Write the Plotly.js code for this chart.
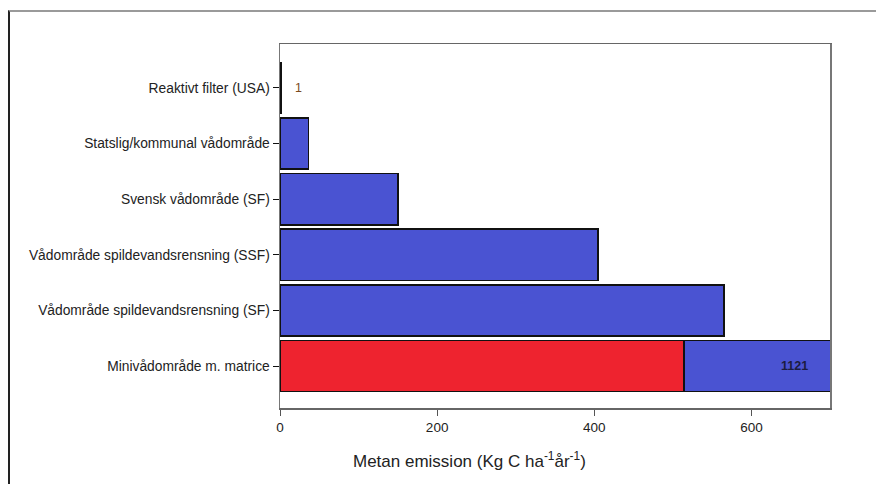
<!DOCTYPE html>
<html>
<head>
<meta charset="utf-8">
<script src="https://cdn.plot.ly/plotly-3.0.1.min.js"></script>
<style>
  html, body { margin: 0; padding: 0; background: #fff; }
  #wrap { position: relative; width: 876px; height: 484px; }
  #chart { position: absolute; left: 0; top: 0; width: 876px; height: 484px; }
  #frame { position: absolute; left: 8px; top: 10px; right: -2px; bottom: -2px;
           border-top: 2px solid #9a9a9a; border-left: 2px solid #222; pointer-events: none; }
</style>
</head>
<body>
<div id="wrap">
  <div id="chart"></div>
  <div id="frame"></div>
</div>
<script>
// Categories, top to bottom
const categories = [
  "Reaktivt filter (USA)",
  "Statslig/kommunal vådområde",
  "Svensk vådområde (SF)",
  "Vådområde spildevandsrensning (SSF)",
  "Vådområde spildevandsrensning (SF)",
  "Minivådområde m. matrice"
];
// Red segment (only the mini wetland has one)
const redValues  = [0, 0, 0, 0, 0, 514];
// Blue segment stacked after red
const blueValues = [1, 36, 150, 405, 565, 607];
// Labels shown on the chart
const lowLabel = "1";
const totalLabel = "1121";
const xTicks = [0, 200, 400, 600];
const xTitle = "Metan emission (Kg C ha<sup>-1</sup>år<sup>-1</sup>)";

const lineStyle = { color: "#111", width: 1.5 };

const traces = [
  {
    type: "bar", orientation: "h",
    y: categories, x: redValues,
    marker: { color: "#ee232f", line: lineStyle },
    hoverinfo: "x+y", showlegend: false
  },
  {
    type: "bar", orientation: "h",
    y: categories, x: blueValues,
    marker: { color: "#4a53d2", line: lineStyle },
    hoverinfo: "x+y", showlegend: false
  }
];

const layout = {
  width: 876, height: 484,
  margin: { l: 280, r: 46, t: 44, b: 76 },
  paper_bgcolor: "#fff", plot_bgcolor: "#fff",
  barmode: "stack", bargap: 0.08,
  font: { family: "Liberation Sans, Arial, sans-serif", size: 12, color: "#222" },
  xaxis: {
    range: [0, 700], tickvals: xTicks, ticktext: xTicks.map(String),
    ticks: "outside", ticklen: 6, tickcolor: "#555", tickwidth: 1,
    showline: true, linecolor: "#666", linewidth: 1.5, mirror: true,
    showgrid: false, zeroline: false,
    tickfont: { size: 13.5, color: "#222" }
  },
  yaxis: {
    type: "category", range: [5.755, -0.79],
    ticks: "outside", ticklen: 6, tickcolor: "#111", tickwidth: 1,
    showline: true, linecolor: "#777", linewidth: 1.5, mirror: true,
    showgrid: false, zeroline: false,
    tickfont: { size: 13.8, color: "#222" }
  },
  annotations: [
    {
      x: blueValues[0] + redValues[0], y: categories[0], xref: "x", yref: "y",
      text: lowLabel, showarrow: false, xanchor: "left", xshift: 12,
      font: { size: 12.5, color: "#7a4a1e" }
    },
    {
      x: 1, xref: "paper", y: categories[5], yref: "y",
      text: "<b>" + totalLabel + "</b>", showarrow: false, xanchor: "right", xshift: -20,
      font: { size: 12.5, color: "#1c1c40" }
    },
    {
      x: 0.345, xref: "paper", y: -0.143, yref: "paper",
      text: xTitle, showarrow: false, xanchor: "center", yanchor: "middle",
      font: { size: 17, color: "#222" }
    }
  ]
};

Plotly.newPlot("chart", traces, layout, { displayModeBar: false, staticPlot: true });
</script>
</body>
</html>
